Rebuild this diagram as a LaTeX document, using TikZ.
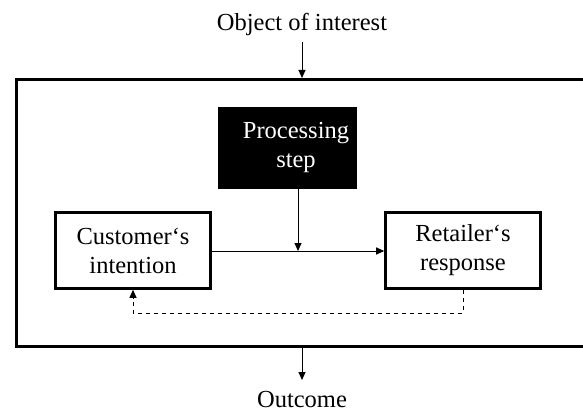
\documentclass[tikz,border=0pt]{standalone}
\usepackage{fontspec}
\setmainfont{Liberation Serif}
\usetikzlibrary{arrows.meta}
\begin{document}
\begin{tikzpicture}[x=1pt,y=-1pt,
  every node/.style={font=\fontsize{24.5}{29}\selectfont, align=center, inner sep=0pt},
  stagebox/.style={draw, line width=2.6pt, minimum width=155pt, minimum height=76pt},
  procbox/.style={fill=black, draw=black, minimum width=138pt, minimum height=81pt},
  conn/.style={line width=1pt, -{Triangle[length=8pt,width=7pt]}},
  feedback/.style={conn, dash pattern=on 4.5pt off 3.5pt},
  frameline/.style={line width=2.8pt}
]
  \useasboundingbox (0,0) rectangle (583,414);
  \clip (0,0) rectangle (583,414);

  % system boundary, open to the right
  \node[frameline, draw, minimum width=590pt, minimum height=267pt, anchor=north west]
    (frame) at (15,78) {};

  % inputs and outputs
  \node (input) at (302,24) {Object of interest};
  \node (outcome) at (302,400) {Outcome};
  \draw[conn] (302,42) -- (302,78);
  \draw[conn] (302,345) -- (302,380);

  % processing step
  \node[procbox] (proc) at (287,147.5) {};
  \node[text=white] (proctext) at (296,147) {Processing\\step};

  % stages
  \node[stagebox] (cust) at (133,250.5) {Customer‘s\\intention};
  \node[stagebox] (ret) at (463,250.5) {Retailer‘s\\response};

  \coordinate (join) at (298,251);
  \draw[conn] (cust.east |- join) -- (ret.west |- join);
  \draw[conn] (proc.south -| join) -- (join);

  % feedback loop
  \coordinate (fb) at (0,313);
  \draw[feedback] (ret.south) -- (ret.south |- fb) -- (cust.south |- fb) -- (cust.south);
\end{tikzpicture}
\end{document}
